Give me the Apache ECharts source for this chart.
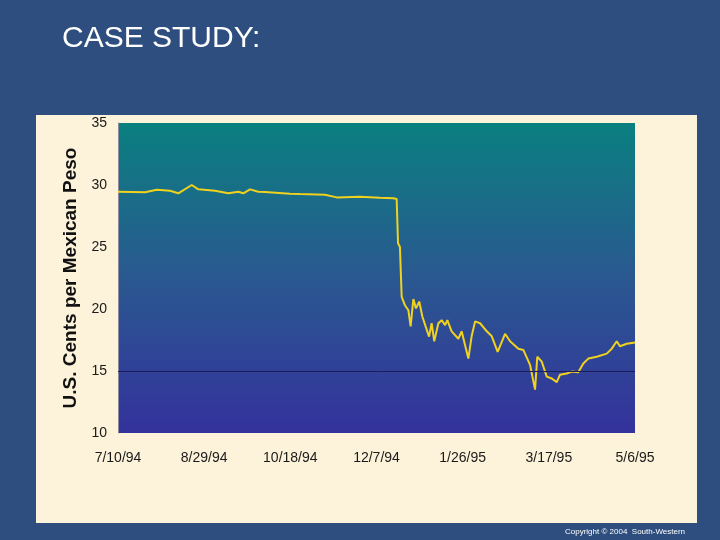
<!DOCTYPE html>
<html>
<head>
<meta charset="utf-8">
<script src="https://cdn.jsdelivr.net/npm/echarts@6/dist/echarts.min.js"></script>
<style>html,body{margin:0;padding:0;background:#2d4e7e;}#c{width:720px;height:540px;}</style>
</head>
<body>
<div id="c"></div>
<script>
// Days since 7/10/94
var days = [0, 15.7, 22.5, 30.2, 35, 42.8, 46.6, 56.3, 64, 69.8, 72.7, 76.6, 81.4, 85.3, 99.8, 105.6, 120.1, 126.9, 140.4, 152, 159.8, 161.7, 162.5, 163.6, 164.6, 166.5, 168.5, 169.8, 171.4, 172.9, 174.8, 176.6, 178.5, 180.5, 182, 183.5, 185.9, 187.8, 189.8, 191.1, 193.6, 197.5, 199.4, 203.3, 205.2, 207.2, 210.1, 214, 216.9, 220.3, 224.6, 227.5, 232.3, 235.2, 239.1, 242, 243.3, 245.9, 248.8, 251.7, 254.6, 256.5, 260.4, 263.3, 267.1, 270, 272.9, 277.8, 283.6, 286.5, 289.4, 291.3, 295.2, 300];
// U.S. cents per Mexican peso
var cents = [29.46, 29.41, 29.62, 29.54, 29.33, 30.0, 29.65, 29.54, 29.33, 29.46, 29.33, 29.65, 29.46, 29.43, 29.3, 29.27, 29.22, 29.0, 29.06, 28.98, 28.93, 28.87, 25.3, 25.0, 21.0, 20.3, 19.9, 18.6, 20.8, 20.05, 20.6, 19.4, 18.6, 17.77, 18.85, 17.4, 18.85, 19.1, 18.7, 19.1, 18.2, 17.6, 18.2, 16.0, 17.8, 19.0, 18.85, 18.2, 17.8, 16.55, 18.0, 17.4, 16.8, 16.7, 15.5, 13.5, 16.15, 15.75, 14.55, 14.4, 14.1, 14.7, 14.8, 14.95, 14.9, 15.6, 16.0, 16.15, 16.4, 16.8, 17.4, 17.0, 17.2, 17.3];
var xTickLabels = ['7/10/94', '8/29/94', '10/18/94', '12/7/94', '1/26/95', '3/17/95', '5/6/95'];
var yTicks = [10, 15, 20, 25, 30, 35];

var seriesData = days.map(function (d, i) { return [d, cents[i]]; });

var chart = echarts.init(document.getElementById('c'));
var FONT = 'Liberation Sans, Arial, sans-serif';
chart.setOption({
  backgroundColor: '#2d4e7e',
  animation: false,
  title: {
    text: 'CASE STUDY:',
    left: 57, top: 19,
    textStyle: { color: '#ffffff', fontSize: 30, fontWeight: 'normal', fontFamily: FONT }
  },
  graphic: [
    { type: 'rect', z: -10, shape: { x: 36, y: 115, width: 661, height: 408 }, style: { fill: '#fdf2da' } },
    { type: 'text', left: 565, top: 528, z: 10, style: { text: 'Copyright \u00a9 2004  South-Western', fill: '#ffffff', fontSize: 8, fontFamily: FONT } }
  ],
  grid: {
    left: 118, right: 85, top: 123, bottom: 107,
    show: true, borderWidth: 0,
    backgroundColor: new echarts.graphic.LinearGradient(0, 0, 0, 1, [
      { offset: 0, color: '#0a8080' },
      { offset: 0.5, color: '#2a5890' },
      { offset: 1, color: '#34329c' }
    ])
  },
  xAxis: {
    type: 'value', min: 0, max: 300, interval: 50,
    axisLine: { show: false }, axisTick: { show: false }, splitLine: { show: false },
    axisLabel: {
      margin: 18, color: '#1a1a1a', fontSize: 14, fontFamily: FONT,
      formatter: function (v) { return xTickLabels[Math.round(v / 50)]; }
    }
  },
  yAxis: {
    type: 'value', min: yTicks[0], max: yTicks[yTicks.length - 1], interval: 5,
    name: 'U.S. Cents per Mexican Peso', nameLocation: 'middle', nameGap: 37,
    nameTextStyle: { color: '#111111', fontSize: 19, fontWeight: 'bold', fontFamily: FONT },
    axisLine: { show: true, lineStyle: { color: '#8c8c9c', width: 1 } },
    axisTick: { show: false }, splitLine: { show: false },
    axisLabel: { margin: 11, color: '#1a1a1a', fontSize: 14, fontFamily: FONT }
  },
  series: [{
    type: 'line', data: seriesData, showSymbol: false, symbol: 'none',
    lineStyle: { color: '#f0d21e', width: 2 },
    markLine: {
      silent: true, symbol: 'none', label: { show: false },
      lineStyle: { color: '#1c1c5c', width: 1, type: 'solid' },
      data: [{ yAxis: 15 }]
    }
  }]
});
</script>
</body>
</html>
